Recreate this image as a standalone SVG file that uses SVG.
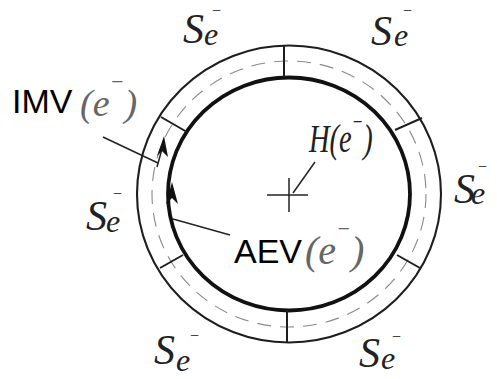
<svg xmlns="http://www.w3.org/2000/svg" width="497" height="379" viewBox="0 0 497 379">
<style>
.outer{fill:none;stroke:#1e1e1e;stroke-width:2.1}
.inner{fill:none;stroke:#111;stroke-width:3.8}
.mid{fill:none;stroke:#8a8a8a;stroke-width:1.1;stroke-dasharray:14 9}
.div{stroke:#1e1e1e;stroke-width:2}
.lead{stroke:#222;stroke-width:1.5;fill:none}
.head{fill:#111}
.sans{font-family:"Liberation Sans",Arial,sans-serif;fill:#000}
.hand{font-family:"Liberation Serif","DejaVu Serif",serif;font-style:italic;fill:#222}
.pen{font-family:"Liberation Serif","DejaVu Serif",serif;font-style:italic;fill:#666}
</style>
<rect width="497" height="379" fill="#fff"/>
<g id="ring">
  <ellipse class="outer" cx="289" cy="194" rx="152" ry="148.5"/>
  <ellipse class="mid" cx="289" cy="194" rx="137" ry="133"/>
  <ellipse class="inner" cx="289" cy="194" rx="121" ry="116.5"/>
  <line class="div" x1="284" y1="45" x2="284" y2="77"/>
  <line class="div" x1="395" y1="130" x2="422" y2="118"/>
  <line class="div" x1="161" y1="117" x2="187" y2="132"/>
  <line class="div" x1="160" y1="268" x2="183" y2="255"/>
  <line class="div" x1="397" y1="255" x2="420" y2="268"/>
  <line class="div" x1="287" y1="310" x2="287" y2="342"/>
</g>
<g id="center">
  <line class="lead" x1="267" y1="195" x2="308" y2="195"/>
  <line class="lead" x1="289" y1="178" x2="289" y2="212"/>
</g>
<g id="connectors">
  <line class="lead" x1="103" y1="137" x2="158" y2="163"/>
  <line class="lead" x1="162" y1="149" x2="157" y2="167"/>
  <polygon class="head" points="164,136 157,156 162,151 168,157"/>
  <polygon class="head" points="172,182 166,204 172,198 178,204"/>
  <line class="lead" x1="173" y1="219" x2="230" y2="235"/>
  <line class="lead" x1="315" y1="162" x2="293" y2="193"/>
</g>
<g id="label-imv">
  <text class="sans" x="12" y="113" font-size="34">IMV</text>
  <text class="pen" x="80" y="116" font-size="38">(e<tspan dy="-27" font-size="22">−</tspan><tspan dy="27">)</tspan></text>
</g>
<g id="label-aev">
  <text class="sans" x="234" y="263" font-size="34">AEV</text>
  <text class="pen" x="305" y="264" font-size="40">(e<tspan dy="-28" font-size="22">−</tspan><tspan dy="28">)</tspan></text>
</g>
<g id="label-h">
  <text class="hand" transform="translate(309,152) scale(0.95,1.35)" font-size="30">H(e<tspan dy="-16" font-size="18">−</tspan><tspan dy="16">)</tspan></text>
</g>
<g id="se-top-left">
  <text class="hand" x="183" y="43" font-size="42">S<tspan x="204" y="45" font-size="32">e</tspan><tspan x="211" y="16" font-size="16">−</tspan></text>
</g>
<g id="se-top-right">
  <text class="hand" x="371" y="45" font-size="42">S<tspan x="394" y="46" font-size="32">e</tspan><tspan x="402" y="16" font-size="16">−</tspan></text>
</g>
<g id="se-right">
  <text class="hand" x="454" y="203" font-size="42">S<tspan x="471" y="204" font-size="32">e</tspan><tspan x="477" y="172" font-size="16">−</tspan></text>
</g>
<g id="se-left">
  <text class="hand" x="86" y="230" font-size="42">S<tspan x="106" y="232" font-size="32">e</tspan><tspan x="112" y="199" font-size="16">−</tspan></text>
</g>
<g id="se-bottom-left">
  <text class="hand" x="154" y="364" font-size="42">S<tspan x="176" y="371" font-size="32">e</tspan><tspan x="189" y="341" font-size="16">−</tspan></text>
</g>
<g id="se-bottom-right">
  <text class="hand" x="359" y="367" font-size="42">S<tspan x="381" y="369" font-size="32">e</tspan><tspan x="391" y="342" font-size="16">−</tspan></text>
</g>
</svg>
